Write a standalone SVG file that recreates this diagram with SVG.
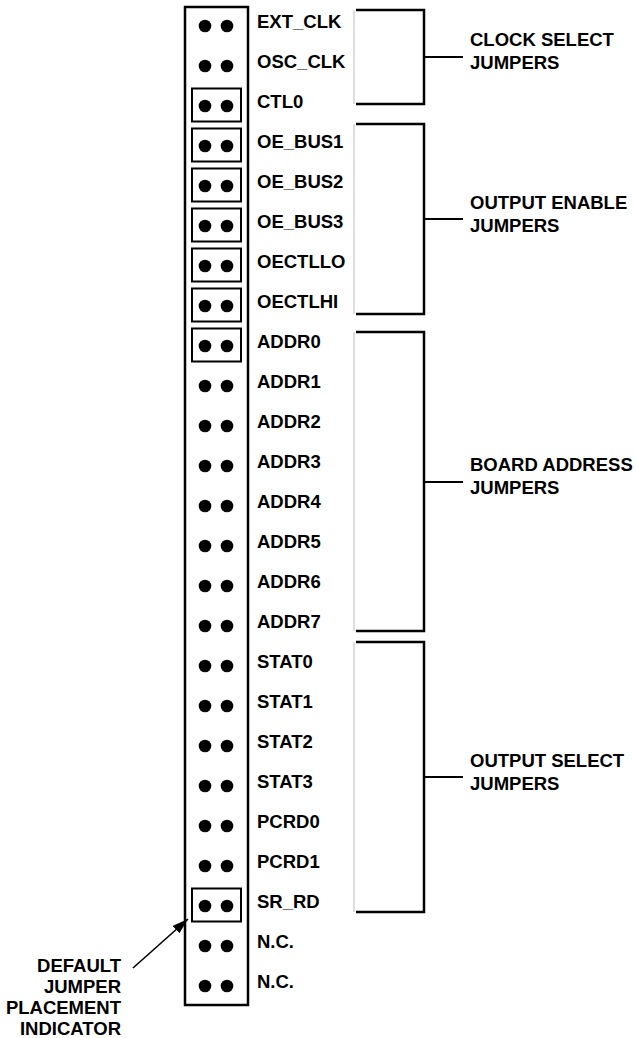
<svg xmlns="http://www.w3.org/2000/svg" width="636" height="1038" viewBox="0 0 636 1038">
<style>
.t{font-family:"Liberation Sans",Arial,sans-serif;font-weight:bold;font-size:18.5px;fill:#000}
.dot{fill:#000}
.jb{fill:none;stroke:#000;stroke-width:2}
.br{fill:none;stroke:#000;stroke-width:2.5}
.gl{stroke:#bdbdbd;stroke-width:1}
</style>
<defs>
<marker id="ah" markerWidth="16" markerHeight="10" refX="16" refY="5" orient="auto" markerUnits="userSpaceOnUse">
<path d="M0,0 L16,5 L0,10 Z" fill="#000"/>
</marker>
</defs>
<rect id="header" x="185" y="7" width="63" height="998" fill="none" stroke="#000" stroke-width="2.5"/>
<g id="pins">
<g id="r0"><circle class="dot" cx="205" cy="26" r="6.3"/><circle class="dot" cx="227" cy="26" r="6.3"/><text class="t" x="257" y="28">EXT_CLK</text></g>
<g id="r1"><circle class="dot" cx="205" cy="66" r="6.3"/><circle class="dot" cx="227" cy="66" r="6.3"/><text class="t" x="257" y="68">OSC_CLK</text></g>
<g id="r2"><rect class="jb" x="192" y="88.5" width="49" height="33"/><circle class="dot" cx="205" cy="106" r="6.3"/><circle class="dot" cx="227" cy="106" r="6.3"/><text class="t" x="257" y="108">CTL0</text></g>
<g id="r3"><rect class="jb" x="192" y="128.5" width="49" height="33"/><circle class="dot" cx="205" cy="146" r="6.3"/><circle class="dot" cx="227" cy="146" r="6.3"/><text class="t" x="257" y="148">OE_BUS1</text></g>
<g id="r4"><rect class="jb" x="192" y="168.5" width="49" height="33"/><circle class="dot" cx="205" cy="186" r="6.3"/><circle class="dot" cx="227" cy="186" r="6.3"/><text class="t" x="257" y="188">OE_BUS2</text></g>
<g id="r5"><rect class="jb" x="192" y="208.5" width="49" height="33"/><circle class="dot" cx="205" cy="226" r="6.3"/><circle class="dot" cx="227" cy="226" r="6.3"/><text class="t" x="257" y="228">OE_BUS3</text></g>
<g id="r6"><rect class="jb" x="192" y="248.5" width="49" height="33"/><circle class="dot" cx="205" cy="266" r="6.3"/><circle class="dot" cx="227" cy="266" r="6.3"/><text class="t" x="257" y="268">OECTLLO</text></g>
<g id="r7"><rect class="jb" x="192" y="288.5" width="49" height="33"/><circle class="dot" cx="205" cy="306" r="6.3"/><circle class="dot" cx="227" cy="306" r="6.3"/><text class="t" x="257" y="308">OECTLHI</text></g>
<g id="r8"><rect class="jb" x="192" y="328.5" width="49" height="33"/><circle class="dot" cx="205" cy="346" r="6.3"/><circle class="dot" cx="227" cy="346" r="6.3"/><text class="t" x="257" y="348">ADDR0</text></g>
<g id="r9"><circle class="dot" cx="205" cy="386" r="6.3"/><circle class="dot" cx="227" cy="386" r="6.3"/><text class="t" x="257" y="388">ADDR1</text></g>
<g id="r10"><circle class="dot" cx="205" cy="426" r="6.3"/><circle class="dot" cx="227" cy="426" r="6.3"/><text class="t" x="257" y="428">ADDR2</text></g>
<g id="r11"><circle class="dot" cx="205" cy="466" r="6.3"/><circle class="dot" cx="227" cy="466" r="6.3"/><text class="t" x="257" y="468">ADDR3</text></g>
<g id="r12"><circle class="dot" cx="205" cy="506" r="6.3"/><circle class="dot" cx="227" cy="506" r="6.3"/><text class="t" x="257" y="508">ADDR4</text></g>
<g id="r13"><circle class="dot" cx="205" cy="546" r="6.3"/><circle class="dot" cx="227" cy="546" r="6.3"/><text class="t" x="257" y="548">ADDR5</text></g>
<g id="r14"><circle class="dot" cx="205" cy="586" r="6.3"/><circle class="dot" cx="227" cy="586" r="6.3"/><text class="t" x="257" y="588">ADDR6</text></g>
<g id="r15"><circle class="dot" cx="205" cy="626" r="6.3"/><circle class="dot" cx="227" cy="626" r="6.3"/><text class="t" x="257" y="628">ADDR7</text></g>
<g id="r16"><circle class="dot" cx="205" cy="666" r="6.3"/><circle class="dot" cx="227" cy="666" r="6.3"/><text class="t" x="257" y="668">STAT0</text></g>
<g id="r17"><circle class="dot" cx="205" cy="706" r="6.3"/><circle class="dot" cx="227" cy="706" r="6.3"/><text class="t" x="257" y="708">STAT1</text></g>
<g id="r18"><circle class="dot" cx="205" cy="746" r="6.3"/><circle class="dot" cx="227" cy="746" r="6.3"/><text class="t" x="257" y="748">STAT2</text></g>
<g id="r19"><circle class="dot" cx="205" cy="786" r="6.3"/><circle class="dot" cx="227" cy="786" r="6.3"/><text class="t" x="257" y="788">STAT3</text></g>
<g id="r20"><circle class="dot" cx="205" cy="826" r="6.3"/><circle class="dot" cx="227" cy="826" r="6.3"/><text class="t" x="257" y="828">PCRD0</text></g>
<g id="r21"><circle class="dot" cx="205" cy="866" r="6.3"/><circle class="dot" cx="227" cy="866" r="6.3"/><text class="t" x="257" y="868">PCRD1</text></g>
<g id="r22"><rect class="jb" x="192" y="888.5" width="49" height="33"/><circle class="dot" cx="205" cy="906" r="6.3"/><circle class="dot" cx="227" cy="906" r="6.3"/><text class="t" x="257" y="908">SR_RD</text></g>
<g id="r23"><circle class="dot" cx="205" cy="946" r="6.3"/><circle class="dot" cx="227" cy="946" r="6.3"/><text class="t" x="257" y="948">N.C.</text></g>
<g id="r24"><circle class="dot" cx="205" cy="986" r="6.3"/><circle class="dot" cx="227" cy="986" r="6.3"/><text class="t" x="257" y="988">N.C.</text></g>
</g>
<g id="clock-select">
<line class="gl" x1="354" y1="10" x2="354" y2="104"/>
<path class="br" d="M356,10 H424 V104 H356"/>
<text class="t" x="470" y="46">CLOCK SELECT</text>
<text class="t" x="470" y="69">JUMPERS</text>
</g>
<g id="output-enable">
<line class="gl" x1="354" y1="124" x2="354" y2="314"/>
<path class="br" d="M356,124 H424 V314 H356"/>
<text class="t" x="470" y="209">OUTPUT ENABLE</text>
<text class="t" x="470" y="232">JUMPERS</text>
</g>
<g id="board-address">
<line class="gl" x1="354" y1="332" x2="354" y2="631"/>
<path class="br" d="M356,332 H424 V631 H356"/>
<text class="t" x="470" y="471">BOARD ADDRESS</text>
<text class="t" x="470" y="494">JUMPERS</text>
</g>
<g id="output-select">
<line class="gl" x1="354" y1="642" x2="354" y2="912"/>
<path class="br" d="M356,642 H424 V912 H356"/>
<text class="t" x="470" y="767">OUTPUT SELECT</text>
<text class="t" x="470" y="790">JUMPERS</text>
</g>
<g id="default-indicator">
<text class="t" x="121" y="972" text-anchor="end">DEFAULT</text>
<text class="t" x="121" y="993" text-anchor="end">JUMPER</text>
<text class="t" x="121" y="1014" text-anchor="end">PLACEMENT</text>
<text class="t" x="121" y="1035" text-anchor="end">INDICATOR</text>
</g>
<g id="connectors" stroke="#000" fill="none">
<line x1="424" y1="57" x2="463" y2="57" stroke-width="2"/>
<line x1="424" y1="219" x2="463" y2="219" stroke-width="2"/>
<line x1="424" y1="482" x2="463" y2="482" stroke-width="2"/>
<line x1="424" y1="777" x2="463" y2="777" stroke-width="2"/>
<line x1="133" y1="968" x2="188" y2="919" stroke-width="1.6" marker-end="url(#ah)"/>
</g>
</svg>
